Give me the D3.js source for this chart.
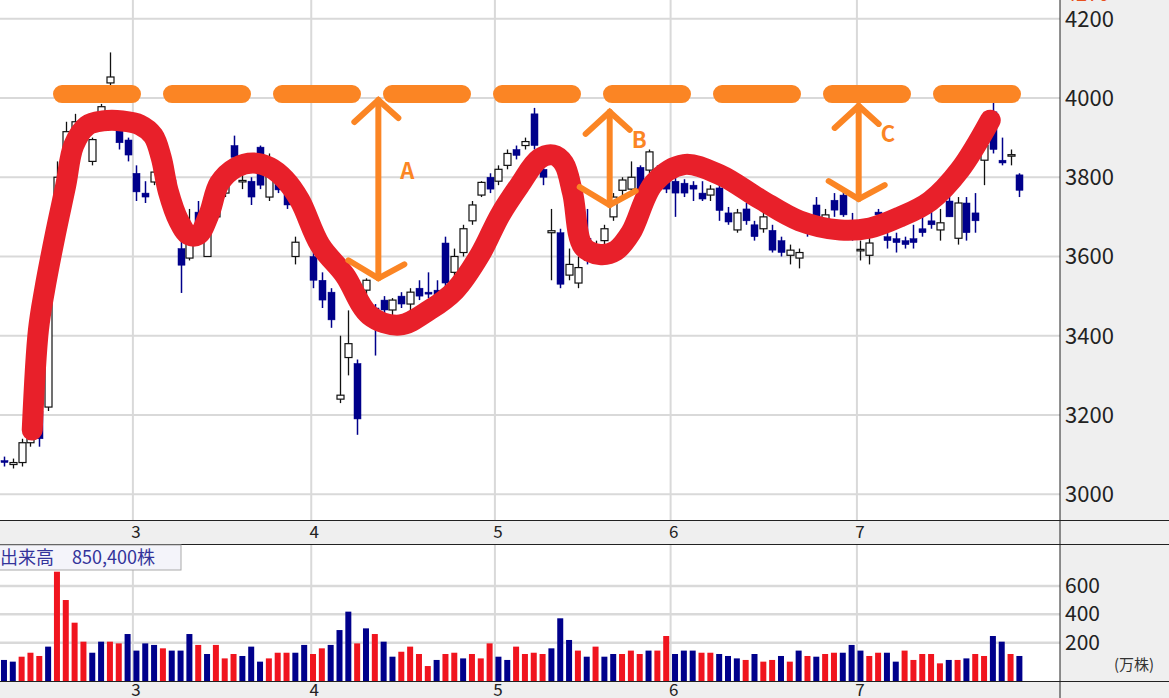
<!DOCTYPE html>
<meta charset="utf-8">
<script src="https://d3js.org/d3.v7.min.js"></script>
<style>body{margin:0;background:#fff}text{font-family:"Noto Sans CJK JP","Noto Sans",sans-serif}</style>
<div id="plot_div"></div>
<script>
// daily candles: [open, high, low, close]
var candles = [
 [3085,3095,3070,3080],[3075,3090,3065,3080],[3080,3140,3070,3130],[3130,3180,3120,3165],[3210,3220,3120,3140],
 [3220,3560,3210,3550],[3690,3840,3680,3800],[3870,3940,3860,3915],[3910,3960,3900,3940],[3940,3945,3915,3920],
 [3840,3900,3830,3895],[3950,3985,3930,3978],[4038,4115,3990,4053],[3920,3935,3870,3887],[3894,3900,3840,3856],
 [3810,3830,3740,3763],[3760,3790,3735,3750],[3788,3820,3780,3813],[3820,3830,3790,3800],[3793,3800,3680,3710],
 [3620,3640,3508,3578],[3596,3720,3590,3670],[3712,3740,3670,3675],[3600,3690,3600,3675],[3700,3760,3690,3740],
 [3760,3810,3750,3800],[3880,3905,3840,3850],[3790,3810,3770,3792],[3790,3800,3730,3750],[3876,3880,3770,3780],
 [3750,3860,3740,3843],[3813,3830,3760,3768],[3770,3790,3720,3730],[3600,3650,3580,3636],[3735,3750,3690,3700],
 [3600,3620,3520,3540],[3540,3560,3470,3490],[3510,3520,3420,3440],[3240,3400,3230,3250],[3345,3464,3300,3380],
 [3330,3340,3150,3190],[3515,3545,3490,3540],[3470,3480,3350,3440],[3490,3500,3450,3465],[3465,3495,3450,3490],
 [3500,3510,3470,3480],[3480,3520,3460,3510],[3520,3540,3490,3500],[3510,3560,3495,3505],[3515,3540,3480,3495],
 [3634,3650,3520,3533],[3560,3620,3545,3600],[3610,3680,3600,3670],[3690,3740,3680,3730],[3755,3790,3750,3787],
 [3800,3810,3760,3770],[3790,3830,3780,3820],[3830,3870,3820,3860],[3870,3880,3845,3855],[3880,3900,3870,3890],
 [3960,3975,3870,3880],[3820,3840,3780,3800],[3660,3720,3540,3665],[3660,3670,3520,3530],[3553,3620,3540,3580],
 [3533,3600,3520,3572],[3646,3720,3580,3590],[3610,3640,3600,3620],[3640,3680,3620,3670],[3700,3760,3690,3750],
 [3767,3800,3750,3793],[3770,3840,3760,3800],[3825,3830,3760,3767],[3818,3870,3810,3864],[3820,3830,3770,3790],
 [3790,3800,3760,3770],[3790,3800,3700,3760],[3785,3795,3750,3760],[3780,3790,3740,3770],[3760,3790,3740,3745],
 [3755,3780,3740,3770],[3773,3785,3690,3716],[3710,3725,3680,3687],[3667,3720,3660,3710],[3720,3735,3680,3690],
 [3680,3690,3640,3650],[3670,3720,3660,3700],[3666,3680,3610,3616],[3640,3650,3600,3610],[3603,3630,3580,3616],
 [3596,3620,3570,3610],[3680,3700,3650,3660],[3730,3750,3680,3690],[3680,3720,3670,3705],[3742,3760,3700,3717],
 [3755,3770,3700,3705],[3680,3710,3640,3670],[3616,3640,3590,3618],[3603,3660,3580,3634],[3712,3720,3690,3705],
 [3650,3660,3620,3640],[3645,3660,3610,3635],[3640,3650,3620,3630],[3645,3680,3620,3635],[3670,3700,3650,3660],
 [3690,3720,3670,3680],[3667,3720,3640,3685],[3740,3770,3700,3700],[3646,3750,3630,3735],[3735,3750,3640,3660],
 [3710,3760,3660,3690],[3843,3880,3780,3880],[3965,3995,3860,3870],[3843,3900,3830,3836],[3855,3870,3830,3857],
 [3806,3810,3750,3767]
];
// volume (万株) and bar colour (r / b)
var volume = [78,66,101,129,106,172,701,501,341,207,129,207,207,195,261,144,195,184,160,144,144,261,184,120,184,89,120,106,172,66,
 89,129,129,129,184,120,160,184,289,419,195,301,261,207,101,136,172,120,35,78,120,129,89,120,89,195,101,78,172,120,
 129,120,160,372,219,144,101,172,101,120,120,144,120,144,144,247,120,144,144,129,129,120,106,89,78,120,66,78,106,66,
 144,106,101,120,129,129,184,144,106,129,129,66,144,78,120,120,54,78,78,89,120,106,247,207,120,106];
var volColor = "bbrrrbrrrrbbrrbbbbrbbbrbrrrbbbrrrbbrrbbbrbrbbrrrrbrrbrrrbbrrrrbbbrbrbbrrrbrrbbbrrbbbrbrrbrbrbrrbbbrrbbrrrrrbrbrrbbrb";
var months = ["3","4","5","6","7"];
var monthIdx = [14.6,34.8,55.6,75.5,96.6];
var priceTicks = [3000,3200,3400,3600,3800,4000,4200];
var volTicks = [200,400,600];
// hand-drawn overlays (index, price)
var trendIdx = [3.2,3.9,4.6,5.8,7.0,7.9,9.4,11.2,13.4,15.4,16.9,17.8,18.6,19.8,20.9,22.0,23.2,24.4,26.3,28.2,30.1,31.8,33.5,35.8,38.6,41.4,44.8,48.2,51.1,53.9,56.2,58.4,60.6,62.2,63.4,64.4,65.6,67.5,69.3,71.0,73.6,77.0,81.1,85.6,90.1,94.7,98.1,101.5,104.9,108.3,111.7];
var trendPrice = [3162,3414,3515,3654,3780,3880,3930,3942,3942,3932,3905,3850,3765,3690,3655,3655,3705,3785,3825,3836,3825,3795,3742,3629,3553,3452,3427,3465,3515,3604,3705,3780,3846,3856,3835,3760,3625,3605,3615,3660,3785,3832,3806,3745,3690,3667,3672,3700,3740,3820,3944];
var resistance = 4010;
var arrows = [{k:"A",i:42.4,top:3995,bot:3545},{k:"B",i:68.6,top:3965,bot:3730},{k:"C",i:96.8,top:3980,bot:3745}];

var W = 1169, plotR = 1060;
var svg = d3.select("#plot_div").append("svg").attr("width", W).attr("height", 698);
var x = d3.scaleLinear().domain([-0.45, 119.6]).range([0, plotR]);
var y = d3.scaleLinear().domain([2935, 4270]).range([520, -9]);
var yv = d3.scaleLinear().domain([0, 600]).range([671, 586]);
var grid = "#d9d9d9";

// backgrounds
svg.append("rect").attr("x", plotR).attr("y", 0).attr("width", W - plotR).attr("height", 698).attr("fill", "#efefef");
svg.append("rect").attr("x", 0).attr("y", 520).attr("width", W).attr("height", 25).attr("fill", "#efefef");
svg.append("rect").attr("x", 0).attr("y", 681).attr("width", W).attr("height", 17).attr("fill", "#efefef");

svg.selectAll(".hg").data(priceTicks).join("line").attr("x1", 0).attr("x2", plotR)
  .attr("y1", d => y(d)).attr("y2", d => y(d)).attr("stroke", grid).attr("stroke-width", 2);
[[0,520],[545,681]].forEach(function(r){
  svg.selectAll(null).data(monthIdx).join("line").attr("x1", d => x(d)).attr("x2", d => x(d))
    .attr("y1", r[0]).attr("y2", r[1]).attr("stroke", grid).attr("stroke-width", 2);
});
svg.selectAll(".vg").data(volTicks).join("line").attr("x1", 0).attr("x2", plotR)
  .attr("y1", d => yv(d)).attr("y2", d => yv(d)).attr("stroke", grid).attr("stroke-width", 2.5);

// axes lines
svg.append("line").attr("x1", plotR).attr("x2", plotR).attr("y1", 0).attr("y2", 698).attr("stroke", "#222");
svg.append("line").attr("x1", 0).attr("x2", W).attr("y1", 520.5).attr("y2", 520.5).attr("stroke", "#222");
svg.append("line").attr("x1", 0).attr("x2", W).attr("y1", 544.5).attr("y2", 544.5).attr("stroke", "#222");
svg.append("line").attr("x1", 0).attr("x2", W).attr("y1", 681.5).attr("y2", 681.5).attr("stroke", "#222");

// candles
var cg = svg.append("g");
candles.forEach(function(c, i){
  var cx = Math.round(x(i)) + 0.5, up = c[3] >= c[0];
  var col = up ? "#111" : "#00008b";
  cg.append("line").attr("x1", cx).attr("x2", cx).attr("y1", y(c[1])).attr("y2", y(c[2])).attr("stroke", col).attr("stroke-width", up ? 1.3 : 1.5);
  var t = y(Math.max(c[0], c[3])), b = y(Math.min(c[0], c[3]));
  cg.append("rect").attr("x", cx - 3.5).attr("y", t).attr("width", 7).attr("height", Math.max(1.5, b - t))
    .attr("fill", up ? "#fff" : "#00008b").attr("stroke", col).attr("stroke-width", up ? 1.2 : 0.5);
});

// volume bars
svg.selectAll(".vb").data(volume).join("rect")
  .attr("x", (d, i) => x(i) - 3).attr("width", 6)
  .attr("y", d => yv(d)).attr("height", d => 681 - yv(d))
  .attr("fill", (d, i) => volColor[i] === "r" ? "#f0141e" : "#00008b");

// labels
svg.selectAll(".pt").data(priceTicks).join("text").attr("x", 1065).attr("y", d => y(d) + 8)
  .attr("font-size", 22).attr("fill", "#222").text(d => d);
svg.append("text").attr("x", 1065).attr("y", 1).attr("font-size", 20).attr("fill", "#e8501e").text("4270");
svg.selectAll(".vt").data(volTicks).join("text").attr("x", 1065).attr("y", d => yv(d) + 7)
  .attr("font-size", 21).attr("fill", "#222").text(d => d);
svg.append("text").attr("x", 1114).attr("y", 670).attr("font-size", 15).attr("fill", "#333").text("(万株)");
[538, 696].forEach(function(ty){
  svg.selectAll(null).data(months).join("text").attr("x", (d, i) => x(monthIdx[i]) + 3).attr("y", ty)
    .attr("text-anchor", "middle").attr("font-size", 17).attr("fill", "#222").text(d => d);
});
svg.append("rect").attr("x", -1).attr("y", 545).attr("width", 182).attr("height", 25).attr("fill", "#f4f4fa").attr("stroke", "#aaa");
svg.append("text").attr("x", 0).attr("y", 564).attr("font-size", 18).attr("fill", "#33339a").text("出来高　850,400株");

// overlays
var orange = "#fb8524";
svg.append("line").attr("x1", 62).attr("x2", 1050).attr("y1", y(resistance)).attr("y2", y(resistance))
  .attr("stroke", orange).attr("stroke-width", 18).attr("stroke-linecap", "round").attr("stroke-dasharray", "70,40");
svg.append("path").datum(trendIdx.map((d, i) => [d, trendPrice[i]]))
  .attr("d", d3.line().x(d => x(d[0])).y(d => y(d[1])).curve(d3.curveCatmullRom))
  .attr("fill", "none").attr("stroke", "#e8202a").attr("stroke-width", 21).attr("stroke-linecap", "round").attr("stroke-linejoin", "round");
arrows.forEach(function(a){
  var ax = x(a.i), t = y(a.top), b = y(a.bot);
  var g = svg.append("g").attr("stroke", orange).attr("stroke-width", 6).attr("fill", "none").attr("stroke-linecap", "round");
  g.append("path").attr("d", `M${ax},${t} L${ax},${b}`);
  g.append("path").attr("d", `M${ax-24},${t+22} L${ax},${t} L${ax+20},${t+18}`);
  g.append("path").attr("d", `M${ax-30},${b-18} L${ax},${b} L${ax+26},${b-14}`);
  svg.append("text").attr("x", ax + 22).attr("y", (t + b) / 2 - 10).attr("font-size", 22).attr("font-weight", "bold")
    .attr("fill", orange).text(a.k);
});
</script>
